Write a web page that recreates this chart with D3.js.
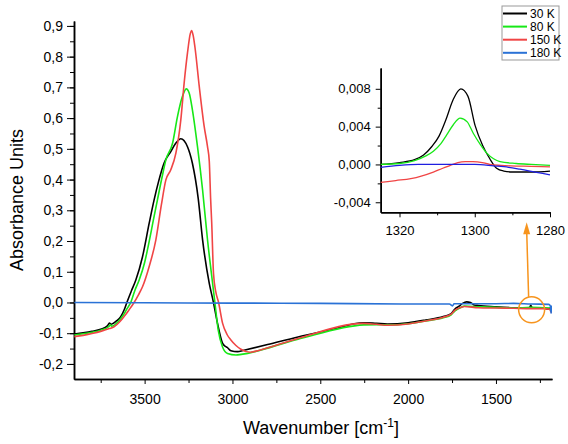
<!DOCTYPE html>
<html lang="en">
<head>
  <meta charset="UTF-8">
  <title>IR spectra</title>
  <script src="https://d3js.org/d3.v7.min.js"></script>
  <style>
    body { margin: 0; background: #fff; }
    svg { font-family: "Liberation Sans", Arial, sans-serif; }
    .line { fill: none; stroke-width: 1.6; stroke-linejoin: round; }
    .inset-line { fill: none; stroke-width: 1.3; stroke-linejoin: round; }
    .axis path, .axis line { stroke: #000; }
    .axis path { stroke-width: 1.5; }
    .axis text { fill: #000; }
  </style>
</head>
<body>
<script>
  // main spectra: [wavenumber, absorbance]
  const k30 = [
    [3900, -0.103], [3850, -0.099], [3800, -0.094], [3750, -0.087], [3712, -0.076],
    [3700, -0.067], [3690, -0.071], [3660, -0.060], [3636, -0.046], [3615, -0.022],
    [3601, 0.000], [3575, 0.038], [3550, 0.073], [3512, 0.149], [3474, 0.258],
    [3446, 0.334], [3420, 0.395], [3389, 0.454], [3351, 0.491], [3322, 0.519],
    [3294, 0.533], [3256, 0.507], [3228, 0.453], [3195, 0.339], [3170, 0.204],
    [3132, 0.062], [3108, 0.000], [3085, -0.068], [3056, -0.133], [3040, -0.143],
    [3030, -0.146], [3009, -0.157], [2971, -0.160], [2940, -0.156], [2800, -0.137],
    [2632, -0.113], [2450, -0.090], [2252, -0.066], [2180, -0.068], [2118, -0.070],
    [2000, -0.066], [1900, -0.057], [1800, -0.046], [1755, -0.036], [1735, -0.022],
    [1710, -0.012], [1690, -0.003], [1667, 0.002], [1645, 0.000], [1625, -0.008],
    [1600, -0.010], [1500, -0.014], [1400, -0.017], [1310, -0.018], [1302, -0.009],
    [1294, -0.018], [1230, -0.019], [1200, -0.021], [1190, -0.018], [1182, -0.030]
  ];
  const k80 = [
    [3900, -0.106], [3850, -0.102], [3800, -0.097], [3750, -0.090], [3705, -0.079],
    [3695, -0.073], [3688, -0.077], [3650, -0.062], [3620, -0.040], [3600, -0.020],
    [3579, 0.000], [3555, 0.040], [3531, 0.073], [3500, 0.130], [3484, 0.171],
    [3446, 0.280], [3427, 0.334], [3400, 0.410], [3379, 0.464], [3341, 0.518],
    [3313, 0.605], [3285, 0.670], [3263, 0.695], [3246, 0.681], [3228, 0.627],
    [3199, 0.507], [3170, 0.366], [3142, 0.204], [3113, 0.062], [3100, 0.000],
    [3081, -0.090], [3057, -0.144], [3028, -0.166], [2980, -0.171], [2950, -0.169],
    [2632, -0.120], [2252, -0.073], [2180, -0.072], [2118, -0.073], [2000, -0.069],
    [1900, -0.060], [1800, -0.050], [1755, -0.040], [1735, -0.028], [1700, -0.016],
    [1680, -0.012], [1600, -0.014], [1500, -0.016], [1400, -0.018], [1300, -0.016],
    [1230, -0.017], [1190, -0.018], [1182, -0.022]
  ];
  const k150 = [
    [3900, -0.111], [3850, -0.107], [3800, -0.101], [3750, -0.094], [3700, -0.085],
    [3674, -0.079], [3640, -0.062], [3617, -0.046], [3590, -0.025], [3560, 0.000],
    [3535, 0.025], [3512, 0.051], [3474, 0.117], [3436, 0.204], [3404, 0.320],
    [3379, 0.399], [3351, 0.432], [3322, 0.486], [3294, 0.594], [3275, 0.714],
    [3256, 0.812], [3240, 0.875], [3233, 0.885], [3224, 0.870], [3214, 0.833],
    [3189, 0.703], [3161, 0.573], [3142, 0.507], [3132, 0.460], [3124, 0.334],
    [3118, 0.258], [3108, 0.095], [3095, 0.035], [3079, 0.000], [3056, -0.068],
    [3030, -0.105], [3009, -0.122], [2980, -0.140], [2952, -0.152], [2898, -0.162],
    [2850, -0.156], [2632, -0.118], [2252, -0.068], [2180, -0.071], [2118, -0.074],
    [2000, -0.070], [1900, -0.060], [1800, -0.048], [1755, -0.038], [1735, -0.026],
    [1700, -0.016], [1680, -0.013], [1600, -0.017], [1500, -0.018], [1400, -0.019],
    [1300, -0.020], [1230, -0.020], [1195, -0.022], [1185, -0.032], [1181, -0.022]
  ];
  const k180 = [
    [3900, 0.000], [3500, -0.001], [3000, -0.002], [2500, -0.003], [2000, -0.005],
    [1765, -0.005], [1748, -0.011], [1738, -0.004], [1650, -0.004], [1500, -0.004],
    [1400, -0.003], [1300, -0.005], [1200, -0.006], [1190, -0.012], [1186, -0.035],
    [1182, -0.010]
  ];

  // inset (1325-1280 cm-1)
  const in30 = [
    [1325, 0.0000], [1320, 0.0002], [1316, 0.0005], [1313.6, 0.0010], [1311.4, 0.0019],
    [1309.5, 0.0030], [1307.7, 0.0047], [1305.7, 0.0069], [1303.7, 0.0080], [1301.8, 0.0072],
    [1299.9, 0.0041], [1297.9, 0.0020], [1296, 0.0006], [1294.2, -0.0004], [1292.3, -0.0007],
    [1290, -0.0008], [1285, -0.0008], [1280, -0.0007]
  ];
  const in80 = [
    [1325, 0.0000], [1320, 0.0001], [1316, 0.0004], [1313, 0.0009], [1311, 0.0014],
    [1309, 0.0022], [1307.5, 0.0031], [1305.7, 0.0042], [1303.9, 0.0049], [1302, 0.0045],
    [1300.4, 0.0033], [1298.5, 0.0021], [1296.8, 0.0012], [1295, 0.0006], [1293.3, 0.0003],
    [1289, 0.0001], [1285, 0.0000], [1280, -0.0001]
  ];
  const in150 = [
    [1325, -0.0019], [1321, -0.0017], [1317, -0.0015], [1314, -0.0012], [1311, -0.0008],
    [1308.5, -0.0004], [1306.5, -0.0001], [1304.5, 0.0002], [1302.5, 0.0003], [1300.5, 0.0003],
    [1298, 0.0002], [1296, 0.0000], [1293, -0.0001], [1290.5, -0.00015], [1285, -0.0002],
    [1280, -0.00025]
  ];
  const in180 = [
    [1325, -0.0003], [1320, -0.0001], [1315, 0.0000], [1305, 0.0000], [1300, 0.0000],
    [1295, -0.00015], [1291, -0.0003], [1288, -0.0005], [1284, -0.0008], [1280, -0.0011]
  ];

  const labels = ['30 K', '80 K', '150 K', '180 K'];
  const colors = ['#000000', '#17e817', '#f04545', '#2a72d6'];
  const insetColors = ['#000000', '#17e817', '#f04545', '#1f1fe0'];

  const xMajor = [3500, 3000, 2500, 2000, 1500];
  const xMinor = [3750, 3250, 2750, 2250, 1750, 1250];
  const yMajor = d3.range(-2, 10).map(d => d / 10);
  const yMinor = d3.range(-4, 19).map(d => d / 20);
  const inXMajor = [1320, 1300, 1280];
  const inXMinor = [1310, 1290];
  const inYMajor = [-0.004, 0, 0.004, 0.008];
  const inYMinor = [-0.002, 0.002, 0.006];

  const W = 568, H = 444;
  const margin = {top: 21, right: 16, bottom: 65, left: 74};
  const width = W - margin.left - margin.right;
  const height = H - margin.top - margin.bottom;

  const svg = d3.select('body').append('svg')
    .attr('width', W).attr('height', H);

  const comma = f => v => d3.format(f)(v).replace('.', ',').replace('\u2212', '-');
  const plain = d3.format('d');

  // main plot
  const x = d3.scaleLinear().domain([3902, 1181]).range([0, width]);
  const y = d3.scaleLinear().domain([-0.249, 0.916]).range([height, 0]);

  const g = svg.append('g').attr('transform', `translate(${margin.left},${margin.top})`);

  g.append('clipPath').attr('id', 'clip-main')
    .append('rect').attr('width', width).attr('height', height);

  g.append('g').attr('class', 'axis')
    .attr('transform', `translate(0,${height})`)
    .call(d3.axisBottom(x).tickValues(xMinor).tickSize(4).tickSizeOuter(0).tickFormat(''));
  g.append('g').attr('class', 'axis')
    .attr('transform', `translate(0,${height})`)
    .call(d3.axisBottom(x).tickValues(xMajor).tickSize(5).tickPadding(10).tickSizeOuter(0).tickFormat(plain))
    .selectAll('text').style('font-size', '14px');

  g.append('g').attr('class', 'axis')
    .call(d3.axisLeft(y).tickValues(yMinor).tickSize(4).tickSizeOuter(0).tickFormat(''));
  g.append('g').attr('class', 'axis')
    .call(d3.axisLeft(y).tickValues(yMajor).tickSize(7).tickPadding(4).tickSizeOuter(0).tickFormat(comma('.1f')))
    .selectAll('text').style('font-size', '14px');

  const line = d3.line().x(d => x(d[0])).y(d => y(d[1])).curve(d3.curveMonotoneX);
  const series = [k30, k80, k150, k180];
  g.append('g').attr('clip-path', 'url(#clip-main)')
    .selectAll('path').data(series).join('path')
    .attr('class', 'line')
    .attr('stroke', (d, i) => colors[i])
    .attr('d', line);

  // axis titles
  svg.append('text')
    .attr('transform', 'translate(23,200) rotate(-90)')
    .attr('text-anchor', 'middle')
    .style('font-size', '18px')
    .text('Absorbance Units');

  const xt = svg.append('text')
    .attr('x', 321).attr('y', 434)
    .attr('text-anchor', 'middle')
    .style('font-size', '18px');
  xt.append('tspan').text('Wavenumber [cm');
  xt.append('tspan').attr('dy', -7).style('font-size', '12px').text('-1');
  xt.append('tspan').attr('dy', 7).text(']');

  // inset
  const inset = {left: 380.7, top: 68, width: 169.3, height: 144.3};
  const xi = d3.scaleLinear().domain([1325, 1280]).range([0, inset.width]);
  const yi = d3.scaleLinear().domain([-0.00506, 0.0102]).range([inset.height, 0]);
  const gi = svg.append('g').attr('transform', `translate(${inset.left},${inset.top})`);

  gi.append('g').attr('class', 'axis')
    .attr('transform', `translate(0,${inset.height})`)
    .call(d3.axisBottom(xi).tickValues(inXMinor).tickSize(3).tickSizeOuter(0).tickFormat(''));
  gi.append('g').attr('class', 'axis')
    .attr('transform', `translate(0,${inset.height})`)
    .call(d3.axisBottom(xi).tickValues(inXMajor).tickSize(5).tickPadding(8).tickSizeOuter(0).tickFormat(plain))
    .selectAll('text').style('font-size', '13px');
  gi.append('g').attr('class', 'axis')
    .call(d3.axisLeft(yi).tickValues(inYMinor).tickSize(3).tickSizeOuter(0).tickFormat(''));
  gi.append('g').attr('class', 'axis')
    .call(d3.axisLeft(yi).tickValues(inYMajor).tickSize(5).tickPadding(5).tickSizeOuter(0).tickFormat(comma('.3f')))
    .selectAll('text').style('font-size', '13px');

  const iline = d3.line().x(d => xi(d[0])).y(d => yi(d[1])).curve(d3.curveMonotoneX);
  gi.selectAll('.inset-line').data([in30, in80, in150, in180]).join('path')
    .attr('class', 'inset-line')
    .attr('stroke', (d, i) => insetColors[i])
    .attr('d', iline);

  // marker circle + arrow to inset
  const cx = margin.left + x(1297), cy = margin.top + y(-0.024), r = 13;
  const orange = '#f7941d';
  svg.append('circle')
    .attr('cx', cx).attr('cy', cy).attr('r', r)
    .attr('fill', 'none').attr('stroke', orange).attr('stroke-width', 1.5);
  const ax = inset.left + xi(1286.2), ay = inset.top + yi(-0.0061);
  svg.append('line')
    .attr('x1', cx - 3).attr('y1', cy - r)
    .attr('x2', ax).attr('y2', ay + 8)
    .attr('stroke', orange).attr('stroke-width', 1.5);
  svg.append('path')
    .attr('d', `M${ax},${ay} L${ax - 3.5},${ay + 12} L${ax + 3.5},${ay + 12} Z`)
    .attr('fill', orange);

  // legend
  const lg = svg.append('g').attr('transform', 'translate(502,6)');
  lg.append('rect').attr('width', 57).attr('height', 54)
    .attr('fill', '#fff').attr('stroke', '#999').attr('stroke-width', 1);
  const item = lg.selectAll('.item').data(labels).join('g')
    .attr('class', 'item')
    .attr('transform', (d, i) => `translate(0,${7.5 + i * 13.1})`);
  item.append('line').attr('x1', 1).attr('x2', 25)
    .attr('stroke', (d, i) => colors[i]).attr('stroke-width', 2);
  item.append('text').attr('x', 28).attr('dy', '0.35em')
    .style('font-size', '12px').text(d => d);
</script>
</body>
</html>
